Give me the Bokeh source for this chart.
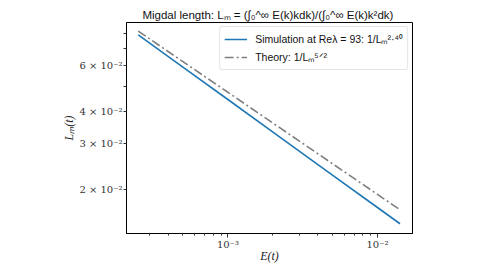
from bokeh.plotting import figure
from bokeh.models import Range1d, FixedTicker, Legend, LegendItem
from bokeh.embed import file_html
from bokeh.resources import INLINE

# Data (log-log, straight power laws)
E_sim = [2.514e-4, 5e-4, 1e-3, 2e-3, 5e-3, 1e-2, 1.415e-2]
L_sim = [0.0790, 0.05931, 0.04441, 0.03323, 0.02266, 0.01697, 0.01468]
E_theory = [2.514e-4, 5e-4, 1e-3, 2e-3, 5e-3, 1e-2, 1.415e-2]
L_theory = [0.08172, 0.06224, 0.04736, 0.03601, 0.02507, 0.01907, 0.01662]

x_major = [1e-3, 1e-2]
x_major_labels = ["10\u207b\u00b3", "10\u207b\u00b2"]
x_minor = [3e-4, 4e-4, 5e-4, 6e-4, 7e-4, 8e-4, 9e-4,
           2e-3, 3e-3, 4e-3, 5e-3, 6e-3, 7e-3, 8e-3, 9e-3]
y_ticks = [0.02, 0.03, 0.04, 0.05, 0.06, 0.07, 0.08]
y_tick_labels = ["2 \u00d7 10\u207b\u00b2", "3 \u00d7 10\u207b\u00b2", "4 \u00d7 10\u207b\u00b2", "",
                 "6 \u00d7 10\u207b\u00b2", "", ""]

title_text = "Migdal length:  L\u2098 = (\u222b\u2080^\u221e E(k)kdk)/(\u222b\u2080^\u221e E(k)k\u00b2dk)"
label_sim = "Simulation at Re\u03bb = 93: 1/L\u2098\u00b2\u00b7\u2074\u2070"
label_theory = "Theory: 1/L\u2098\u2075\u141f\u00b2"

p = figure(width=478, height=269, x_axis_type="log", y_axis_type="log",
           x_range=Range1d(2.099e-4, 1.715e-2), y_range=Range1d(0.01346, 0.08819),
           output_backend="svg", toolbar_location=None,
           min_border_left=126, min_border_right=66, min_border_top=22, min_border_bottom=36)

p.title.text = title_text
p.title.align = "center"
p.title.text_font = "Liberation Sans"
p.title.text_font_size = "11.5px"
p.title.text_font_style = "normal"
p.title.text_color = "#111111"
p.title.standoff = 3
p.title.offset = 0

p.background_fill_color = "white"
p.border_fill_color = "white"
p.outline_line_color = "black"
p.outline_line_width = 1
p.grid.visible = False

r1 = p.line(E_sim, L_sim, line_color="#1f77b4", line_width=1.6)
r2 = p.line(E_theory, L_theory, line_color="#7f7f7f", line_width=1.6, line_dash="9 3 2 3")

legend = Legend(items=[LegendItem(label=label_sim, renderers=[r1]),
                       LegendItem(label=label_theory, renderers=[r2])],
                location="top_right")
legend.label_text_font = "Liberation Sans"
legend.label_text_font_size = "10.5px"
legend.label_text_color = "#111111"
legend.glyph_width = 23
legend.glyph_height = 16
legend.label_height = 16
legend.label_standoff = 8
legend.spacing = 2
legend.padding = 4
legend.margin = 4
legend.border_line_color = "#cccccc"
legend.border_line_width = 1
legend.background_fill_alpha = 0.8
if "border_radius" in Legend.properties():
    legend.border_radius = 3
p.add_layout(legend)

xa = p.xaxis[0]
xa.ticker = FixedTicker(ticks=x_major, minor_ticks=x_minor)
xa.major_label_overrides = {v: t for v, t in zip(x_major, x_major_labels)}
ya = p.yaxis[0]
ya.ticker = FixedTicker(ticks=y_ticks, minor_ticks=[])
ya.major_label_overrides = {v: t for v, t in zip(y_ticks, y_tick_labels)}

for ax in (xa, ya):
    ax.axis_line_color = "black"
    ax.major_tick_line_color = "#333333"
    ax.minor_tick_line_color = "#333333"
    ax.major_tick_in = 0
    ax.minor_tick_in = 0
    ax.minor_tick_out = 2
    ax.major_label_text_font = "DejaVu Serif"
    ax.major_label_text_font_size = "10px"
    ax.major_label_text_color = "#333333"
    ax.axis_label_text_font = "Liberation Serif"
    ax.axis_label_text_font_style = "italic"
    ax.axis_label_text_font_size = "12px"
    ax.axis_label_text_color = "#222222"
xa.major_tick_out = 4
ya.major_tick_out = 3
xa.major_label_standoff = 1
ya.major_label_standoff = 1
xa.axis_label = "E(t)"
ya.axis_label = "L\u2098(t)"
xa.axis_label_standoff = -4
ya.axis_label_standoff = 0

open("out.html", "w").write(file_html(p, INLINE))
